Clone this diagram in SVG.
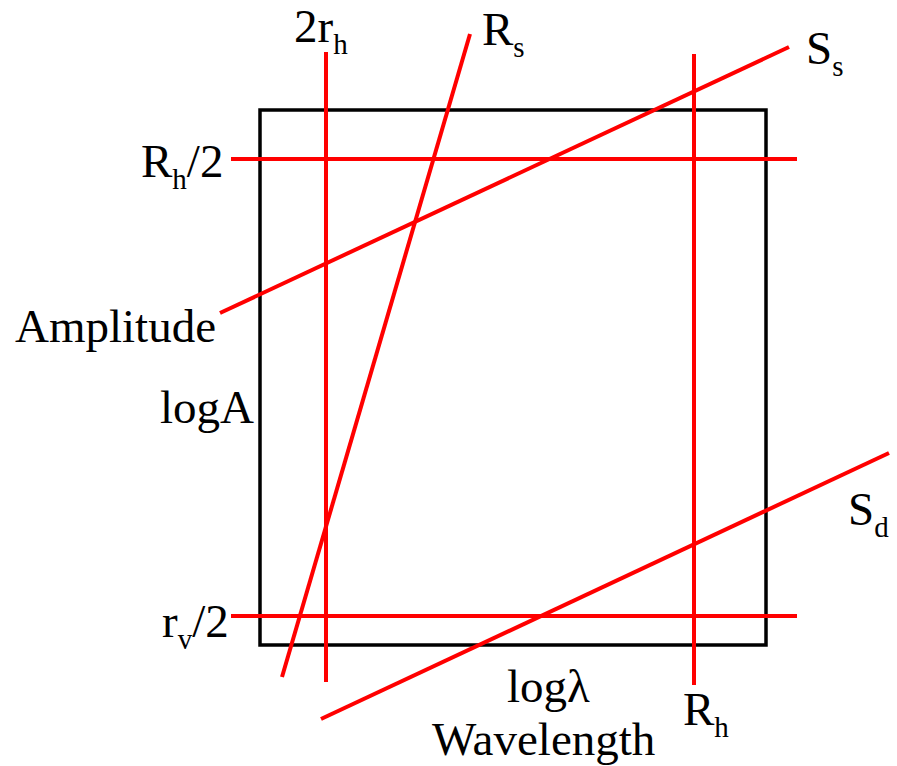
<svg xmlns="http://www.w3.org/2000/svg" width="897" height="766" viewBox="0 0 897 766">
<style>
.frame{fill:none;stroke:#000;stroke-width:3.5}
.ln{stroke:#ff0000;stroke-width:4;fill:none}
text{font-family:"Liberation Serif","Times New Roman",serif;font-size:47px;fill:#000}
.sub{font-size:29px}
</style>
<rect width="897" height="766" fill="#fff"/>
<g id="frame"><rect class="frame" x="260" y="110" width="506" height="535"/></g>
<g id="connectors">
<line id="l-2rh" class="ln" x1="326" y1="52" x2="326" y2="682"/>
<line id="l-Rh" class="ln" x1="694" y1="54" x2="694" y2="685"/>
<line id="l-Rh2" class="ln" x1="231" y1="159" x2="797" y2="159"/>
<line id="l-rv2" class="ln" x1="231" y1="616" x2="797" y2="616"/>
<line id="l-Rs" class="ln" x1="470" y1="34" x2="282" y2="677"/>
<line id="l-Ss" class="ln" x1="220" y1="313" x2="789" y2="47"/>
<line id="l-Sd" class="ln" x1="321" y1="719" x2="889" y2="453"/>
</g>
<g id="label-2rh"><text x="294" y="42">2r<tspan class="sub" dy="12">h</tspan></text></g>
<g id="label-Rs"><text x="482" y="45">R<tspan class="sub" dy="12">s</tspan></text></g>
<g id="label-Ss"><text x="806" y="64">S<tspan class="sub" dy="12">s</tspan></text></g>
<g id="label-Rh2"><text x="141" y="177">R<tspan class="sub" dy="12">h</tspan><tspan dy="-12">/2</tspan></text></g>
<g id="label-amplitude"><text x="15" y="342">Amplitude</text></g>
<g id="label-logA"><text x="160" y="423">logA</text></g>
<g id="label-Sd"><text x="848" y="525">S<tspan class="sub" dy="12">d</tspan></text></g>
<g id="label-rv2"><text x="162" y="637">r<tspan class="sub" dy="12">v</tspan><tspan dy="-12">/2</tspan></text></g>
<g id="label-loglambda"><text x="507" y="702">logλ</text></g>
<g id="label-wavelength"><text x="432" y="755">Wavelength</text></g>
<g id="label-Rh"><text x="683" y="725">R<tspan class="sub" dy="12">h</tspan></text></g>
</svg>
